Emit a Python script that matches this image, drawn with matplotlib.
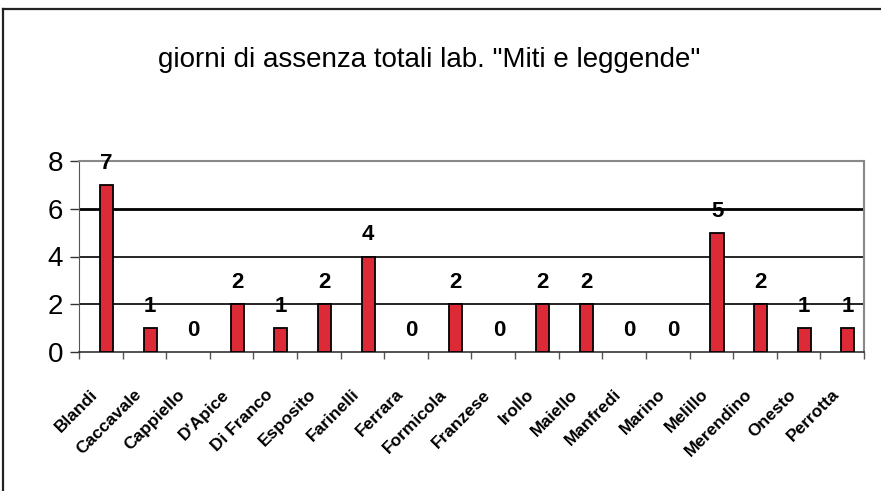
import matplotlib
matplotlib.use("Agg")
from matplotlib import pyplot as plt
from matplotlib.lines import Line2D

nomi = ["Blandi", "Caccavale", "Cappiello", "D'Apice", "Di Franco", "Esposito",
        "Farinelli", "Ferrara", "Formicola", "Franzese", "Irollo", "Maiello",
        "Manfredi", "Marino", "Melillo", "Merendino", "Onesto", "Perrotta"]
giorni = [7, 1, 0, 2, 1, 2, 4, 0, 2, 0, 2, 2, 0, 0, 5, 2, 1, 1]
titolo = 'giorni di assenza totali lab. "Miti e leggende"'

narrow = ["Liberation Sans Narrow", "Liberation Sans", "DejaVu Sans"]
plt.rcParams['font.family'] = ["Liberation Sans", "DejaVu Sans"]

fig = plt.figure(figsize=(8.81, 4.91), dpi=100)
ax = fig.add_axes([79/881, 1-352/491, (864-79)/881, (352-161)/491])

# cornice del grafico (solo lato sinistro e alto visibili)
fig.add_artist(Line2D([3/881, 3/881], [0, 1-9/491], color='#222222', lw=1.6,
                      transform=fig.transFigure))
fig.add_artist(Line2D([3/881, 1], [1-9/491, 1-9/491], color='#222222', lw=1.6,
                      transform=fig.transFigure))

x = list(range(len(nomi)))
xb = [i + 0.13 for i in x]
bordi = ['black' if v > 0 else 'none' for v in giorni]
ax.bar(xb, giorni, width=0.30, color='#DC2A36', edgecolor=bordi, lw=1.3, zorder=3)

for xi, v in zip(xb, giorni):
    ax.annotate(str(v), (xi, v), xytext=(0, 15.5), textcoords='offset points',
                ha='center', va='center', fontsize=16, fontweight='bold',
                family=narrow, zorder=4)

# griglia
for g in [2, 4, 6]:
    ax.axhline(g, color='black', lw=2.0 if g == 6 else 1.2, zorder=1)

ax.set_xlim(-0.5, len(nomi) - 0.5)
ax.set_ylim(0, 8)
ax.set_yticks([0, 2, 4, 6, 8])
ax.tick_params(axis='y', labelsize=20, length=6.5, width=1, color='#333333', pad=5)

ax.set_xticks(x)
ax.set_xticklabels(nomi, rotation=45, ha='right', fontsize=12.5, fontweight='bold')
ax.tick_params(axis='x', which='major', length=0, pad=25)
ax.set_xticks([i - 0.5 for i in x] + [len(nomi) - 0.5], minor=True)
ax.tick_params(axis='x', which='minor', length=5, width=1, color='#555555')

ax.spines['top'].set_color('#888888')
ax.spines['top'].set_linewidth(1.5)
ax.spines['right'].set_color('#888888')
ax.spines['right'].set_linewidth(1.5)
ax.spines['left'].set_color('#555555')
ax.spines['bottom'].set_color('#333333')
ax.spines['bottom'].set_linewidth(1.2)

fig.text(429/881, 1-60/491, titolo, ha='center', va='center', fontsize=20,
         family=narrow)

fig.savefig("out.png", dpi=100)
